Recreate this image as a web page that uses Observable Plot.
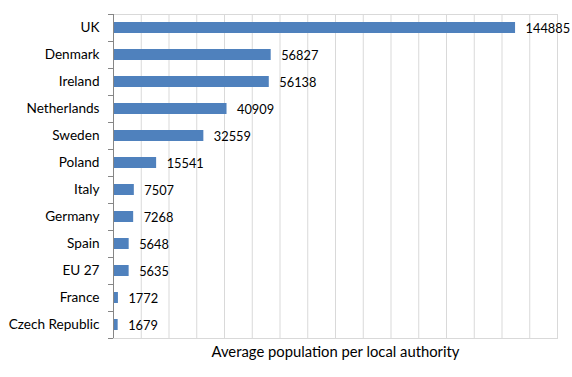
<!DOCTYPE html>
<html>
<head>
<meta charset="utf-8">
<script src="https://cdn.jsdelivr.net/npm/d3@7"></script>
<script src="https://cdn.jsdelivr.net/npm/@observablehq/plot@0.6"></script>
<style>
  html, body { margin: 0; padding: 0; background: #fff; }
  #chart svg { display: block; }
</style>
</head>
<body>
<div id="chart"></div>
<script>
const countries = ["UK", "Denmark", "Ireland", "Netherlands", "Sweden", "Poland", "Italy", "Germany", "Spain", "EU 27", "France", "Czech Republic"];
const values = [144885, 56827, 56138, 40909, 32559, 15541, 7507, 7268, 5648, 5635, 1772, 1679];
const xTicks = d3.range(0, 160001, 10000);
const axisTitle = "Average population per local authority";

const data = countries.map((c, i) => ({country: c, value: values[i]}));

const font = "Lato, 'Open Sans', sans-serif";

const chart = Plot.plot({
  width: 572,
  height: 377,
  marginLeft: 113,
  marginRight: 15,
  marginTop: 14,
  marginBottom: 39,
  style: {fontFamily: font, fontSize: "13.3px", color: "#000", background: "#fff"},
  x: {domain: [0, 160000], axis: null},
  y: {domain: countries, paddingInner: 0.6, paddingOuter: 0.3, axis: null},
  marks: [
    Plot.gridX(xTicks, {stroke: "#d9d9d9", strokeOpacity: 1, strokeWidth: 1}),
    Plot.frame({stroke: "#d9d9d9", strokeWidth: 1}),
    Plot.barX(data, {y: "country", x: "value", fill: "#4f81bd"}),
    Plot.text(data, {y: "country", x: "value", text: d => String(d.value), textAnchor: "start", dx: 10, dy: 1, fill: "#000", fontSize: 12.8}),
    Plot.ruleX([0], {stroke: "#868686", strokeWidth: 1}),
    Plot.axisY({tickSize: 5, tickPadding: 0, text: null, label: null, dy: 13.5, stroke: "#868686", strokeOpacity: 1}),
    Plot.axisY(countries.slice(0, 1), {tickSize: 5, text: null, label: null, dy: -13.5, stroke: "#868686", strokeOpacity: 1}),
    Plot.axisY({tickSize: 0, tickPadding: 14, fontSize: 13.6, fill: "#000", label: null}),
    Plot.text([axisTitle], {frameAnchor: "bottom", dy: 14, lineAnchor: "middle", fontSize: 14.8, fill: "#000"})
  ]
});
document.getElementById("chart").appendChild(chart);
</script>
</body>
</html>
